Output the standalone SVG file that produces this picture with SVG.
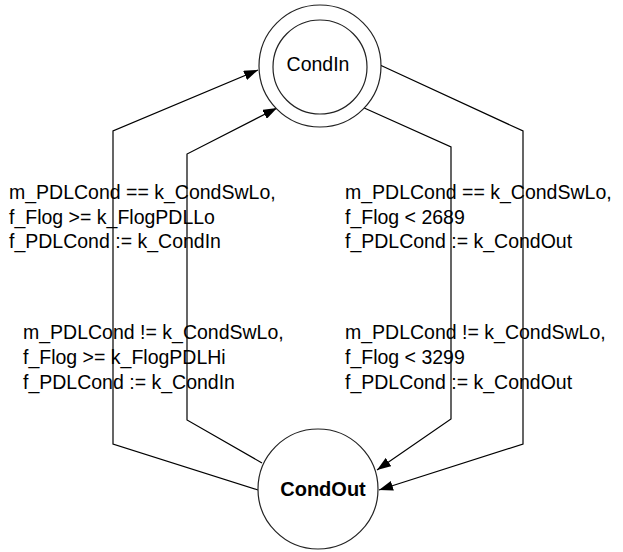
<svg xmlns="http://www.w3.org/2000/svg" width="623" height="552" viewBox="0 0 623 552">
<style>
.st{fill:#fff;stroke:#222;stroke-width:1.2}
.edge{fill:none;stroke:#000;stroke-width:1.2}
.lbl{font-family:"Liberation Sans",Arial,sans-serif;font-size:19.5px;fill:#000}
.nm{font-family:"Liberation Sans",Arial,sans-serif;font-size:19.5px;fill:#000}
.nmb{font-family:"Liberation Sans",Arial,sans-serif;font-size:20px;font-weight:bold;fill:#000}
</style>
<defs>
<marker id="arr" viewBox="0 0 14 10" refX="14" refY="5" markerWidth="14" markerHeight="10" markerUnits="userSpaceOnUse" orient="auto">
<path d="M0,0 L14,5 L0,10 Z" fill="#000"/>
</marker>
</defs>
<rect width="623" height="552" fill="#fff"/>
<g id="connectors">
<polyline class="edge" points="258,490 113,444 113,131 258,70" marker-end="url(#arr)"/>
<polyline class="edge" points="262,463 187,420 187,154 277,108" marker-end="url(#arr)"/>
<polyline class="edge" points="380,65 523,131 523,444 379,490" marker-end="url(#arr)"/>
<polyline class="edge" points="362,107 451,147 451,419 377,470" marker-end="url(#arr)"/>
</g>
<g id="CondIn">
<circle class="st" cx="320" cy="66" r="61"/>
<circle class="st" cx="320" cy="67" r="47"/>
<text class="nm" x="318" y="71" text-anchor="middle">CondIn</text>
</g>
<g id="CondOut">
<circle class="st" cx="318" cy="489" r="60"/>
<text class="nmb" x="323" y="496" text-anchor="middle">CondOut</text>
</g>
<g id="labels">
<text class="lbl" x="9" y="199">m_PDLCond == k_CondSwLo,</text>
<text class="lbl" x="9" y="223.5">f_Flog &gt;= k_FlogPDLLo</text>
<text class="lbl" x="9" y="248">f_PDLCond := k_CondIn</text>
<text class="lbl" x="345" y="199">m_PDLCond == k_CondSwLo,</text>
<text class="lbl" x="345" y="223.5">f_Flog &lt; 2689</text>
<text class="lbl" x="345" y="248">f_PDLCond := k_CondOut</text>
<text class="lbl" x="23" y="339">m_PDLCond != k_CondSwLo,</text>
<text class="lbl" x="23" y="364">f_Flog &gt;= k_FlogPDLHi</text>
<text class="lbl" x="23" y="389">f_PDLCond := k_CondIn</text>
<text class="lbl" x="345" y="339">m_PDLCond != k_CondSwLo,</text>
<text class="lbl" x="345" y="364">f_Flog &lt; 3299</text>
<text class="lbl" x="345" y="389">f_PDLCond := k_CondOut</text>
</g>
</svg>
